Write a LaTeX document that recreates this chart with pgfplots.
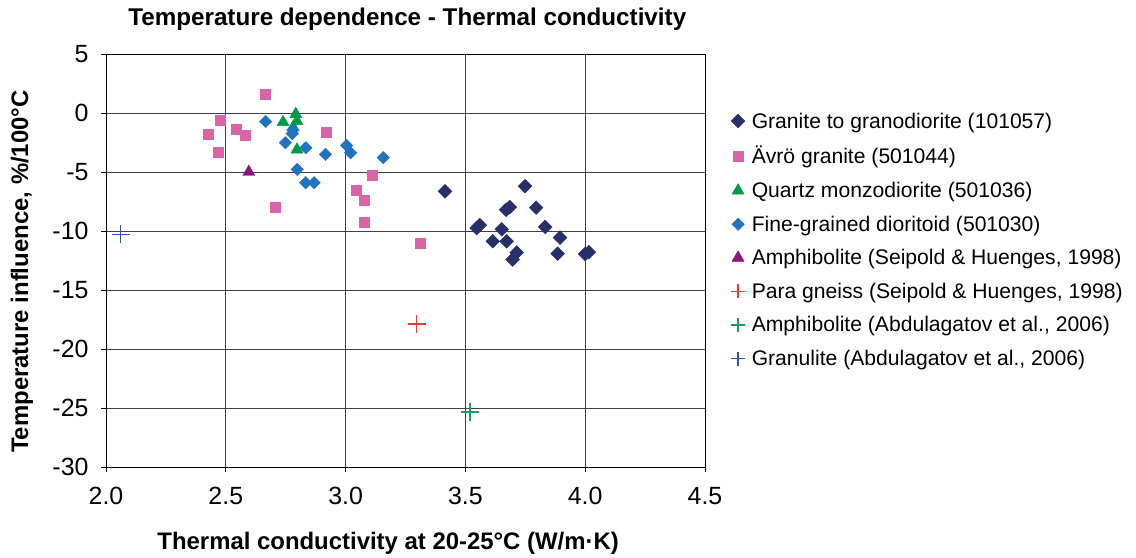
\documentclass[border=0pt]{standalone}
\usepackage{pgfplots}
\pgfplotsset{compat=1.18}
\usepackage{fontspec}
\setmainfont{Liberation Sans}
\definecolor{cnavy}{RGB}{40,48,105}
\definecolor{cpink}{RGB}{218,100,166}
\definecolor{cgreen}{RGB}{0,155,70}
\definecolor{cblue}{RGB}{33,115,192}
\definecolor{cpurple}{RGB}{140,22,125}
\definecolor{cred}{RGB}{238,55,55}
\definecolor{cteal}{RGB}{20,160,95}
\definecolor{cgblue}{RGB}{45,85,165}
\begin{document}
\begin{tikzpicture}[x=1bp,y=1bp]
\useasboundingbox (-106,-91) rectangle (1030,467);
\begin{axis}[
  at={(0,0)}, anchor=south west,
  scale only axis, width=599bp, height=413bp,
  xmin=2, xmax=4.5, ymin=-30, ymax=5,
  xtick={2,2.5,...,4.5}, ytick={-30,-25,...,5},
  grid=major, major grid style={black!75, line width=0.8bp},
  axis line style={black, line width=0.9bp},
  tick style={black, line width=0.8bp},
  tick align=outside, tick pos=left,
  major tick length=5bp,
  /pgf/number format/assume math mode=true,
  xticklabel style={font=\fontsize{25}{29}\selectfont, yshift=-12bp, /pgf/number format/.cd, fixed, fixed zerofill, precision=1},
  yticklabel style={font=\fontsize{25}{29}\selectfont, xshift=-9bp},
  xlabel={\textbf{Thermal conductivity at 20-25°C (W/m·K)}},
  ylabel={\textbf{Temperature influence, \%/100°C}},
  every axis x label/.style={at={([yshift=-76bp]axis description cs:0.471,0)}, anchor=center, font=\fontsize{24}{28}\selectfont},
  every axis y label/.style={at={([xshift=-84bp]axis description cs:0,0.473)}, anchor=center, rotate=90, font=\fontsize{24}{28}\selectfont},
  title={\textbf{Temperature dependence - Thermal conductivity}},
  every axis title/.style={at={([yshift=35bp]axis description cs:0.503,1)}, anchor=center, font=\fontsize{24.3}{28}\selectfont},
  legend style={at={(1.037,0.868)}, anchor=north west, draw=none, fill=none,
    font=\fontsize{21.2}{24}\selectfont, row sep=12.8bp,
    /tikz/every even column/.append style={column sep=2bp},
    /tikz/every odd column/.append style={column sep=4bp}},
  legend cell align=left,
  clip=false,
]
\addplot[only marks, mark=square*, mark size=4.9bp, mark options={rotate=45, fill=cnavy, draw=cnavy}, color=cnavy] coordinates {
(3.415,-6.64) (3.749,-6.20) (3.670,-8.20) (3.685,-7.98) (3.795,-8.02)
(3.547,-9.75) (3.560,-9.50) (3.652,-9.86) (3.833,-9.66) (3.614,-10.87)
(3.672,-10.87) (3.895,-10.56) (3.714,-11.83) (3.697,-12.42) (3.885,-11.92)
(4.000,-11.95) (4.015,-11.80)
};
\addlegendentry{Granite to granodiorite (101057)}
\addplot[only marks, mark=square*, mark size=5bp, mark options={fill=cpink, draw=cpink}, color=cpink] coordinates {
(2.663,1.62) (2.475,-0.63) (2.426,-1.76) (2.545,-1.34) (2.579,-1.90)
(2.468,-3.32) (2.705,-7.97) (2.921,-1.62) (3.113,-5.29) (3.043,-6.56)
(3.078,-7.40) (3.078,-9.24) (3.312,-11.00)
};
\addlegendentry{Ävrö granite (501044)}
\addplot[only marks, mark=triangle*, mark size=7bp, mark options={fill=cgreen, draw=cgreen}, color=cgreen] coordinates {
(2.792,-0.10) (2.797,-0.69) (2.739,-0.78) (2.781,-1.20) (2.797,-3.11)
};
\addlegendentry{Quartz monzodiorite (501036)}
\addplot[only marks, mark=square*, mark size=4.4bp, mark options={rotate=45, fill=cblue, draw=cblue}, color=cblue] coordinates {
(2.666,-0.72) (2.780,-1.45) (2.777,-1.75) (2.749,-2.52) (2.834,-2.95)
(2.916,-3.51) (3.004,-2.75) (3.021,-3.37) (3.157,-3.79) (2.798,-4.78)
(2.833,-5.91) (2.869,-5.91)
};
\addlegendentry{Fine-grained dioritoid (501030)}
\addplot[only marks, mark=triangle*, mark size=7bp, mark options={fill=cpurple, draw=cpurple}, color=cpurple] coordinates {
(2.596,-5.00)
};
\addlegendentry{Amphibolite (Seipold \& Huenges, 1998)}
\addplot[only marks, mark=+, mark size=9bp, line width=1.3bp, draw=cred, mark options={draw=cred}, color=cred,
  legend image code/.code={\draw[cred, line width=1.4bp] (1.5bp,0bp) -- (15.5bp,0bp) (8.5bp,-7bp) -- (8.5bp,7bp);}] coordinates {
(3.297,-17.89)
};
\addlegendentry{Para gneiss (Seipold \& Huenges, 1998)}
\addplot[only marks, mark=+, mark size=9bp, line width=1.3bp, draw=cteal, mark options={draw=cteal}, color=cteal,
  legend image code/.code={\draw[cteal, line width=1.4bp] (1.5bp,0bp) -- (15.5bp,0bp) (8.5bp,-7bp) -- (8.5bp,7bp);}] coordinates {
(3.519,-25.34)
};
\addlegendentry{Amphibolite (Abdulagatov et al., 2006)}
\addplot[only marks, mark=+, mark size=9bp, line width=1.3bp, draw=cgblue, mark options={draw=cgblue}, color=cgblue,
  legend image code/.code={\draw[cgblue, line width=1.4bp] (1.5bp,0bp) -- (15.5bp,0bp) (8.5bp,-7bp) -- (8.5bp,7bp);}] coordinates {
(2.061,-10.28)
};
\addlegendentry{Granulite (Abdulagatov et al., 2006)}
\end{axis}
\end{tikzpicture}
\end{document}
